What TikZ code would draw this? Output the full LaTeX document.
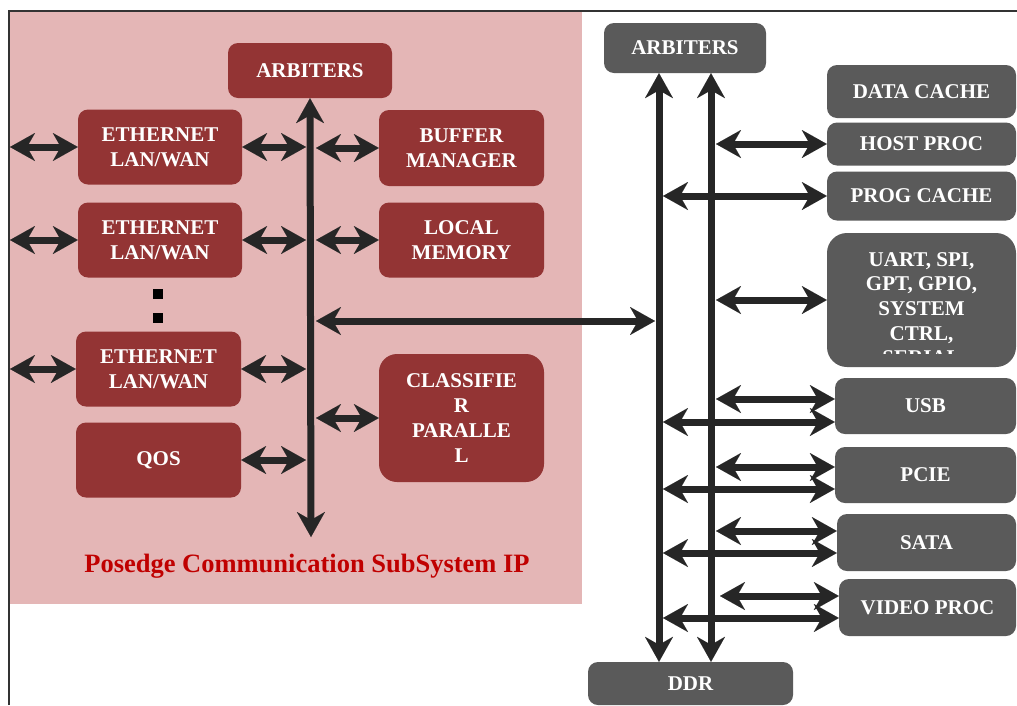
\documentclass[tikz,border=0pt]{standalone}
\usepackage{fontspec}
\setmainfont{Liberation Serif}
\usetikzlibrary{arrows.meta}
\definecolor{pinkbg}{HTML}{E4B6B6}
\definecolor{boxred}{HTML}{933434}
\definecolor{boxgray}{HTML}{5A5A5A}
\definecolor{arrowdark}{HTML}{262626}
\definecolor{captred}{HTML}{C00000}
\definecolor{framegray}{HTML}{333333}
\newcommand\boxfont{\bfseries\fontsize{21}{24.7}\selectfont}
\newcommand\captfont{\bfseries\fontsize{26.5}{30}\selectfont}
\begin{document}
\begin{tikzpicture}[x=1pt,y=-1pt,
  redbox/.style={fill=boxred, rounded corners=10pt, text=white, font=\boxfont, align=center, inner sep=0pt},
  graybox/.style={fill=boxgray, rounded corners=10pt, text=white, font=\boxfont, align=center, inner sep=0pt},
  sq/.style={fill=black, minimum size=10pt, inner sep=0pt},
  tipst/.tip={Stealth[length=25pt,width=28pt,inset=8pt,line width=0.01pt]},
  dbl/.style={line width=7pt, draw=arrowdark, tipst-tipst}]
\useasboundingbox (0,0) rectangle (1017,705);
\fill[white] (0,0) rectangle (1017,705);
% pink subsystem area
\fill[pinkbg] (10,11) rectangle (582,604);
\draw[framegray, line width=2pt] (9,705) -- (9,11) -- (1017,11);

% ---- left (subsystem) nodes
\node[redbox, minimum width=164, minimum height=55] (arb1) at (310,70.5) {ARBITERS};
\node[redbox, minimum width=164, minimum height=75] (eth1) at (160,147) {ETHERNET\\LAN/WAN};
\node[redbox, minimum width=165, minimum height=76] (buf) at (461.5,148) {BUFFER\\MANAGER};
\node[redbox, minimum width=164, minimum height=75] (eth2) at (160,240) {ETHERNET\\LAN/WAN};
\node[redbox, minimum width=165, minimum height=75] (loc) at (461.5,240) {LOCAL\\MEMORY};
\node[sq] (dot1) at (158,293.5) {};
\node[sq] (dot2) at (158,317.5) {};
\node[redbox, minimum width=165, minimum height=75] (eth3) at (158.5,369) {ETHERNET\\LAN/WAN};
\node[redbox, minimum width=165, minimum height=75] (qos) at (158.5,460) {QOS};
\node[redbox, rounded corners=18pt, minimum width=165, minimum height=128] (cls) at (461.5,418) {CLASSIFIE\\R\\PARALLE\\L};
\node[text=captred, font=\captfont, inner sep=0pt] (capt) at (307,566) {Posedge Communication SubSystem IP};

% ---- right nodes
\node[graybox, minimum width=162, minimum height=50] (arb2) at (685,48) {\raisebox{-2pt}{ARBITERS}};
\node[graybox, minimum width=205, minimum height=43] (ddr) at (690.5,683.5) {\raisebox{-2pt}{DDR}};
\node[graybox, minimum width=189, minimum height=53] (dc) at (921.5,91.5) {DATA CACHE};
\node[graybox, minimum width=189, minimum height=43] (hp) at (921.5,144) {HOST PROC};
\node[graybox, minimum width=189, minimum height=49] (pc) at (921.5,196) {PROG CACHE};
\node[graybox, rounded corners=20pt, minimum width=189, minimum height=134] (uart) at (921.5,300) {};
\begin{scope}
  \clip (827,232) rectangle (1017,353);
  \node[text=white, font=\boxfont, align=center, inner sep=0pt, anchor=north] (uarttxt) at (921.5,252) {UART, SPI,\\GPT, GPIO,\\SYSTEM\\CTRL,\\SERIAL};
\end{scope}
\node[graybox, minimum width=181, minimum height=56] (usb) at (925.5,406) {\raisebox{-2pt}{USB}};
\node[graybox, minimum width=181, minimum height=56] (pcie) at (925.5,475) {\raisebox{-2pt}{PCIE}};
\node[graybox, minimum width=179, minimum height=57] (sata) at (926.5,542.5) {\raisebox{-2pt}{SATA}};
\node[graybox, minimum width=177, minimum height=57] (video) at (927.5,607.5) {\raisebox{-2pt}{VIDEO PROC}};

% ---- bus coordinates
\coordinate (lbbot) at (311,537);
\coordinate (rb1top) at ([xshift=-26pt]arb2.south);
\coordinate (rb2top) at ([xshift=26pt]arb2.south);
\coordinate (rb1bot) at (rb1top |- ddr.north);
\coordinate (rb2bot) at (rb2top |- ddr.north);

% ---- left bus and arrows
\draw[dbl] (arb1.south) -- (lbbot);
\coordinate (e1o) at (10,147);
\coordinate (e1b) at (306,147);
\coordinate (bfb) at (316,148);
\draw[dbl] (e1o) -- (eth1.west);
\draw[dbl] (eth1.east) -- (e1b);
\draw[dbl] (bfb) -- (buf.west);
\coordinate (e2o) at (10,240);
\coordinate (e2b) at (306,240);
\coordinate (lmb) at (316,240);
\draw[dbl] (e2o) -- (eth2.west);
\draw[dbl] (eth2.east) -- (e2b);
\draw[dbl] (lmb) -- (loc.west);
\coordinate (e3o) at (10,369);
\coordinate (e3b) at (306,369);
\draw[dbl] (e3o) -- (eth3.west);
\draw[dbl] (eth3.east) -- (e3b);
\coordinate (qb) at (306,460);
\draw[dbl] (qos.east) -- (qb);
\coordinate (clb) at (316,418);
\draw[dbl] (clb) -- (cls.west);
\coordinate (lgl) at (316,321);
\coordinate (lgr) at (655,321);
\draw[dbl] (lgl) -- (lgr);

% ---- right buses and arrows
\draw[dbl] (rb1top) -- (rb1bot);
\draw[dbl] (rb2top) -- (rb2bot);
\coordinate (hpb) at (716,144);
\draw[dbl] (hpb) -- (hp.west);
\coordinate (pcb) at (663,196);
\draw[dbl] (pcb) -- (pc.west);
\coordinate (uab) at (716,300);
\draw[dbl] (uab) -- (uart.west);
\coordinate (usb2) at (716,399);
\coordinate (usb1) at (663,422);
\draw[dbl] (usb2) -- ([yshift=7pt]usb.west);
\draw[dbl] (usb1) -- ([yshift=-16pt]usb.west);
\coordinate (pci2) at (716,467);
\coordinate (pci1) at (663,489);
\draw[dbl] (pci2) -- ([yshift=8pt]pcie.west);
\draw[dbl] (pci1) -- ([yshift=-14pt]pcie.west);
\coordinate (sat2) at (716,531);
\coordinate (sat1) at (663,553);
\draw[dbl] (sat2) -- ([yshift=11.5pt]sata.west);
\draw[dbl] (sat1) -- ([yshift=-10.5pt]sata.west);
\coordinate (vid2) at (720,596);
\coordinate (vid1) at (663,618);
\draw[dbl] (vid2) -- ([yshift=11.5pt]video.west);
\draw[dbl] (vid1) -- ([yshift=-10.5pt]video.west);
\end{tikzpicture}
\end{document}
